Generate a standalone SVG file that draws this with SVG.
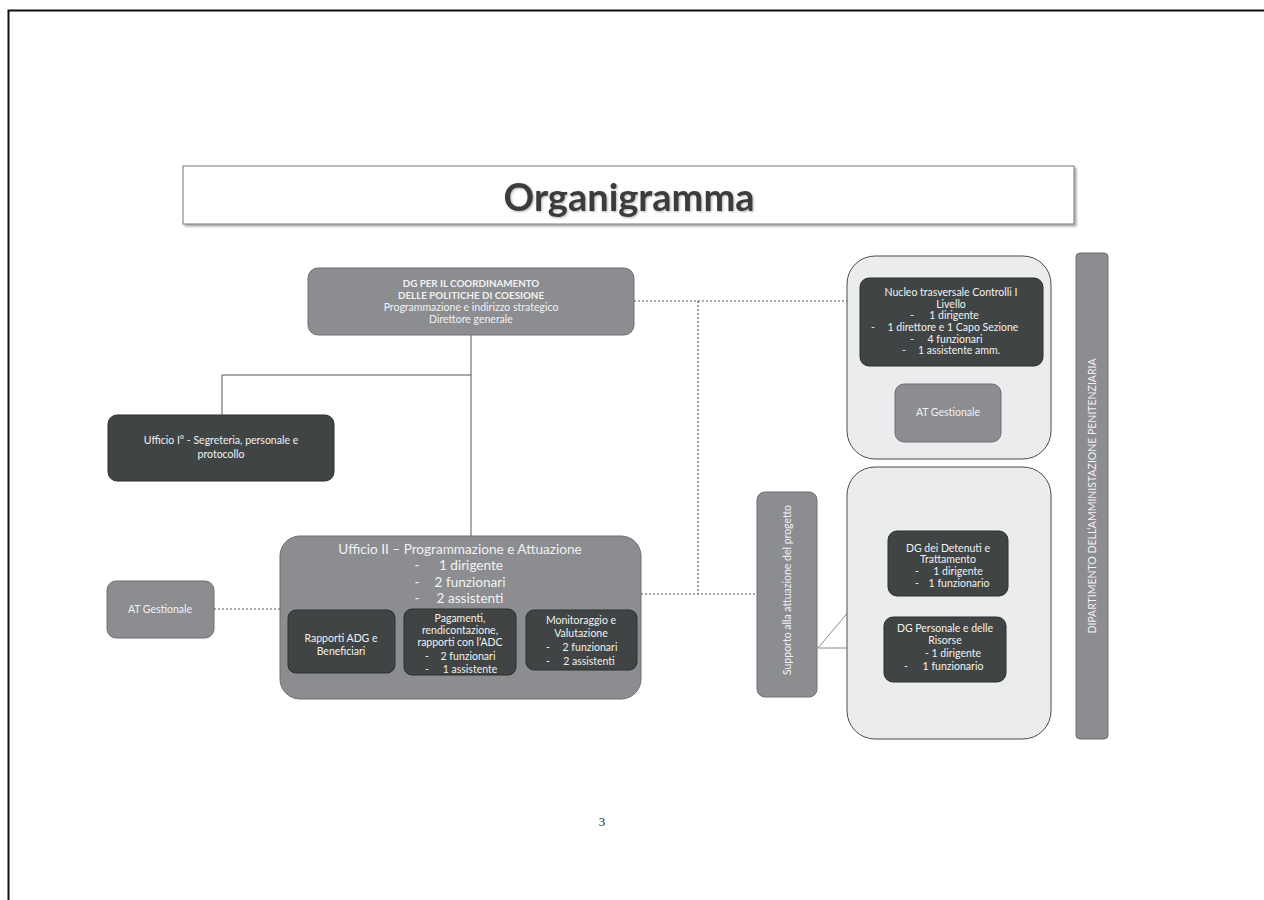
<svg xmlns="http://www.w3.org/2000/svg" width="1264" height="900" viewBox="0 0 1264 900">
<defs>
<style>
.t{font-family:Lato,"Liberation Sans",sans-serif;fill:#f2f2f2;text-anchor:middle;font-size:10.5px}
.tb{font-weight:bold;font-size:9.8px}
.u2{font-size:13.6px}
.mid{fill:#8b8d91;stroke:#6d6f72;stroke-width:1}
.dark{fill:#404444;stroke:#2c2e2e;stroke-width:1}
.light{fill:#ebeced;stroke:#4a4a4a;stroke-width:1}
.solid{stroke:#555;stroke-width:1;fill:none}
.dot{stroke:#555;stroke-width:1.2;stroke-dasharray:2 2;fill:none}
.thin{stroke:#8a8a8a;stroke-width:1;fill:none}
</style>
<filter id="sh" x="-5%" y="-10%" width="112%" height="130%"><feDropShadow dx="2" dy="2" stdDeviation="1.2" flood-color="#000" flood-opacity="0.35"/></filter>
<filter id="tsh" x="-5%" y="-20%" width="112%" height="140%"><feDropShadow dx="1" dy="1" stdDeviation="0.8" flood-color="#000" flood-opacity="0.3"/></filter>
</defs>
<rect width="1264" height="900" fill="#fff"/>
<path d="M8.5 900 V10.5 H1264" stroke="#111" stroke-width="2" fill="none"/>

<g id="title">
<rect x="183" y="166" width="891" height="58" fill="#fff" stroke="#777" stroke-width="1" filter="url(#sh)"/>
<text x="629" y="211" font-family="Lato,'Liberation Sans',sans-serif" font-weight="bold" font-size="38" fill="#3a3d3d" text-anchor="middle" filter="url(#tsh)">Organigramma</text>
</g>

<g id="connectors">
<path class="solid" d="M471 335 V537 M222 375 H471 M222 375 V415"/>
<path class="dot" d="M634 301 H850 M698 301 V594 M641 594 H757 M214 609 H280"/>
<path class="thin" d="M818 648 L888 565 M818 648 H884"/>
</g>

<g id="dg">
<rect class="mid" x="308" y="268" width="326" height="67" rx="10"/>
<text class="t tb" x="471" y="287">DG PER IL COORDINAMENTO</text>
<text class="t tb" x="471" y="299">DELLE POLITICHE DI COESIONE</text>
<text class="t" x="471" y="311">Programmazione e indirizzo strategico</text>
<text class="t" x="471" y="323">Direttore generale</text>
</g>

<g id="ufficio1">
<rect class="dark" x="108" y="415" width="226" height="66" rx="9"/>
<text class="t" x="221" y="444">Ufficio I° - Segreteria, personale e</text>
<text class="t" x="221" y="458">protocollo</text>
</g>

<g id="at-left">
<rect class="mid" x="107" y="581" width="107" height="57" rx="9"/>
<text class="t" x="160" y="613">AT Gestionale</text>
</g>

<g id="ufficio2">
<rect class="mid" x="280" y="536" width="361" height="163" rx="20"/>
<text class="t u2" x="460" y="554">Ufficio II – Programmazione  e Attuazione</text>
<text class="t u2" x="417" y="570">-</text><text class="t u2" x="471" y="570">1 dirigente</text>
<text class="t u2" x="417" y="587">-</text><text class="t u2" x="470" y="587">2 funzionari</text>
<text class="t u2" x="417" y="603">-</text><text class="t u2" x="470" y="603">2 assistenti</text>
</g>

<g id="rapporti">
<rect class="dark" x="288" y="610" width="107" height="63" rx="8"/>
<text class="t" x="341" y="642">Rapporti ADG e</text>
<text class="t" x="341" y="655">Beneficiari</text>
</g>

<g id="pagamenti">
<rect class="dark" x="404" y="609" width="112" height="66" rx="8"/>
<text class="t" x="460" y="622">Pagamenti,</text>
<text class="t" x="460" y="634">rendicontazione,</text>
<text class="t" x="460" y="646">rapporti con l’ADC</text>
<text class="t" x="427" y="660">-</text><text class="t" x="468" y="660">2 funzionari</text>
<text class="t" x="427" y="673">-</text><text class="t" x="470" y="673">1 assistente</text>
</g>

<g id="monitoraggio">
<rect class="dark" x="526" y="610" width="111" height="60" rx="8"/>
<text class="t" x="581" y="624">Monitoraggio e</text>
<text class="t" x="581" y="637">Valutazione</text>
<text class="t" x="548" y="651">-</text><text class="t" x="590" y="651">2 funzionari</text>
<text class="t" x="548" y="665">-</text><text class="t" x="589" y="665">2 assistenti</text>
</g>

<g id="supporto">
<rect class="mid" x="757" y="492" width="60" height="205" rx="8"/>
<text class="t" font-size="11.3" transform="translate(791 590) rotate(-90)">Supporto alla attuazione del progetto</text>
</g>

<g id="group-controlli">
<rect class="light" x="847" y="256" width="204" height="203" rx="28"/>
</g>

<g id="nucleo">
<rect class="dark" x="860" y="278" width="183" height="88" rx="9"/>
<text class="t" x="951" y="296">Nucleo trasversale Controlli I</text>
<text class="t" x="951" y="308">Livello</text>
<text class="t" x="912" y="319">-</text><text class="t" x="954" y="319">1 dirigente</text>
<text class="t" x="873" y="331">-</text><text class="t" x="953" y="331">1 direttore e 1 Capo Sezione</text>
<text class="t" x="912" y="343">-</text><text class="t" x="955" y="343">4 funzionari</text>
<text class="t" x="904" y="354">-</text><text class="t" x="959" y="354">1 assistente amm.</text>
</g>

<g id="at-right">
<rect class="mid" x="895" y="384" width="106" height="58" rx="9"/>
<text class="t" x="948" y="416">AT Gestionale</text>
</g>

<g id="group-dg">
<rect class="light" x="847" y="467" width="204" height="272" rx="28"/>
</g>

<g id="detenuti">
<rect class="dark" x="888" y="531" width="120" height="65" rx="9"/>
<text class="t" x="948" y="552">DG dei Detenuti e</text>
<text class="t" x="948" y="563">Trattamento</text>
<text class="t" x="917" y="575">-</text><text class="t" x="958" y="575">1 dirigente</text>
<text class="t" x="917" y="587">-</text><text class="t" x="959" y="587">1 funzionario</text>
</g>

<g id="personale">
<rect class="dark" x="884" y="617" width="122" height="65" rx="9"/>
<text class="t" x="945" y="632">DG Personale e delle</text>
<text class="t" x="945" y="644">Risorse</text>
<text class="t" x="953" y="657">- 1 dirigente</text>
<text class="t" x="906" y="670">-</text><text class="t" x="953" y="670">1 funzionario</text>
</g>

<g id="dipartimento">
<rect class="mid" x="1076" y="253" width="32" height="486" rx="4"/>
<text class="t" font-size="9.6" transform="translate(1096 496) rotate(-90)">DIPARTIMENTO DELL’AMMINISTAZIONE PENITENZIARIA</text>
</g>

<text x="602" y="826" font-family="'Liberation Serif',serif" font-size="13" fill="#222" text-anchor="middle">3</text>
</svg>
